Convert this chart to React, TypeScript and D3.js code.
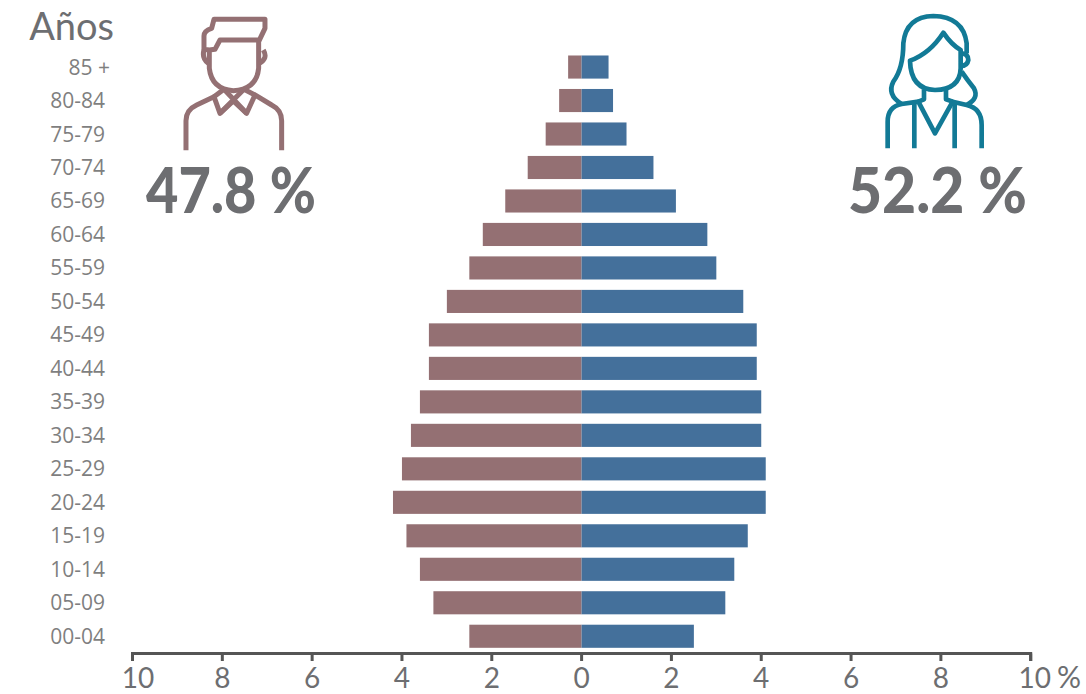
import React from "react";
import * as d3 from "d3";

const ageGroups = ["85 +","80-84","75-79","70-74","65-69","60-64","55-59","50-54","45-49","40-44","35-39","30-34","25-29","20-24","15-19","10-14","05-09","00-04"];
const maleValues = [0.3,0.5,0.8,1.2,1.7,2.2,2.5,3.0,3.4,3.4,3.6,3.8,4.0,4.2,3.9,3.6,3.3,2.5];
const femaleValues = [0.6,0.7,1.0,1.6,2.1,2.8,3.0,3.6,3.9,3.9,4.0,4.0,4.1,4.1,3.7,3.4,3.2,2.5];
const axisTicks = [-10,-8,-6,-4,-2,0,2,4,6,8,10];
const maleTotal = "47.8 %";
const femaleTotal = "52.2 %";

const W = 1086, H = 694;
const x = d3.scaleLinear().domain([-10,10]).range([132.5,1030.7]);
const y = d3.scaleBand<string>().domain(ageGroups).range([50.3,653]).paddingInner(0.31).paddingOuter(0.155);
const MALE = "#947073", FEMALE = "#44709b", TEXT = "#6d6e71", LABEL = "#7f7f7f", AXIS = "#555555";

export default function App() {
  const font = "'Open Sans','Noto Sans',sans-serif";
  const tickOffset = (t:number) => (t===-10?5.5:t===10?4:0);
  return (
    <svg width={W} height={H} viewBox={`0 0 ${W} ${H}`} style={{position:"absolute",left:0,top:0,background:"#fff"}}>
      <text x={114} y={40} textAnchor="end" fontFamily="Lato,sans-serif" fontSize={38} fill={TEXT}>Años</text>
      {ageGroups.map((g,i)=>{
        const cy = y(g)! + y.bandwidth()/2;
        return (
          <g key={g}>
            <rect x={x(-maleValues[i])} y={y(g)} width={x(0)-x(-maleValues[i])} height={y.bandwidth()} fill={MALE}/>
            <rect x={x(0)} y={y(g)} width={x(femaleValues[i])-x(0)} height={y.bandwidth()} fill={FEMALE}/>
            <text x={g==="85 +"?110:105} y={cy+7.5} textAnchor="end" fontFamily={font} fontSize={21} fill={LABEL}>{g}</text>
          </g>
        );
      })}
      <path d={`M${x(-10)},661V${653.5}H${x(10)}V661`} fill="none" stroke={AXIS} strokeWidth={3}/>
      {axisTicks.map(t=>(
        <g key={t}>
          <line x1={x(t)} x2={x(t)} y1={653.5} y2={661} stroke={AXIS} strokeWidth={3}/>
          <text x={x(t)+tickOffset(t)} y={688} textAnchor="middle" fontFamily="Lato,sans-serif" fontSize={28} fill={TEXT}>{Math.abs(t)}</text>
        </g>
      ))}
      <text x={1069} y={688} textAnchor="middle" fontFamily="Lato,sans-serif" fontSize={30} fill={TEXT}>%</text>

      <g transform="scale(0.3333)" fill="none" stroke={MALE} strokeWidth={15} strokeLinejoin="round" strokeLinecap="butt">
        <path d="M558,451V362Q558,330 590,315L642,290L660,340L700,303L740,340L765,285L815,315Q845,330 845,362V451"/>
        <path d="M642,290L672,268M765,285L732,268M672,268L740,340M732,268L660,340"/>
        <path d="M628,150V205Q635,268 700,272Q770,268 776,205V120H660L645,148L628,150L612,148V108Q612,92 635,85L642,58H795V85L776,125"/>
        <path d="M612,150Q605,175 625,190M790,150Q805,175 778,190"/>
      </g>
      <text x={231} y={213} textAnchor="middle" textLength={170} lengthAdjust="spacingAndGlyphs" fontFamily="Lato,sans-serif" fontWeight={900} fontSize={62} fill={TEXT}>{maleTotal}</text>

      <g transform="translate(820,0) scale(0.3333)" fill="none" stroke="#127a96" strokeWidth={14} strokeLinejoin="round">
        <path d="M203,445V365Q203,320 245,312L295,305L345,400L398,305L440,315Q485,325 485,375V445"/>
        <path d="M283,445V312M404,445V312"/>
        <path d="M312,268V298L295,305M378,268V298L398,305"/>
        <path d="M270,182Q330,160 370,98Q395,135 422,150V205Q420,268 345,270Q272,268 270,182Z"/>
        <path d="M245,312Q200,285 220,245Q250,205 250,130Q258,50 340,48Q430,50 440,130V160"/>
        <path d="M422,160Q445,160 445,180Q442,198 422,198"/>
        <path d="M425,215Q442,240 462,265Q478,295 440,315"/>
      </g>
      <text x={937.5} y={213} textAnchor="middle" textLength={179} lengthAdjust="spacingAndGlyphs" fontFamily="Lato,sans-serif" fontWeight={900} fontSize={62} fill={TEXT}>{femaleTotal}</text>
    </svg>
  );
}
